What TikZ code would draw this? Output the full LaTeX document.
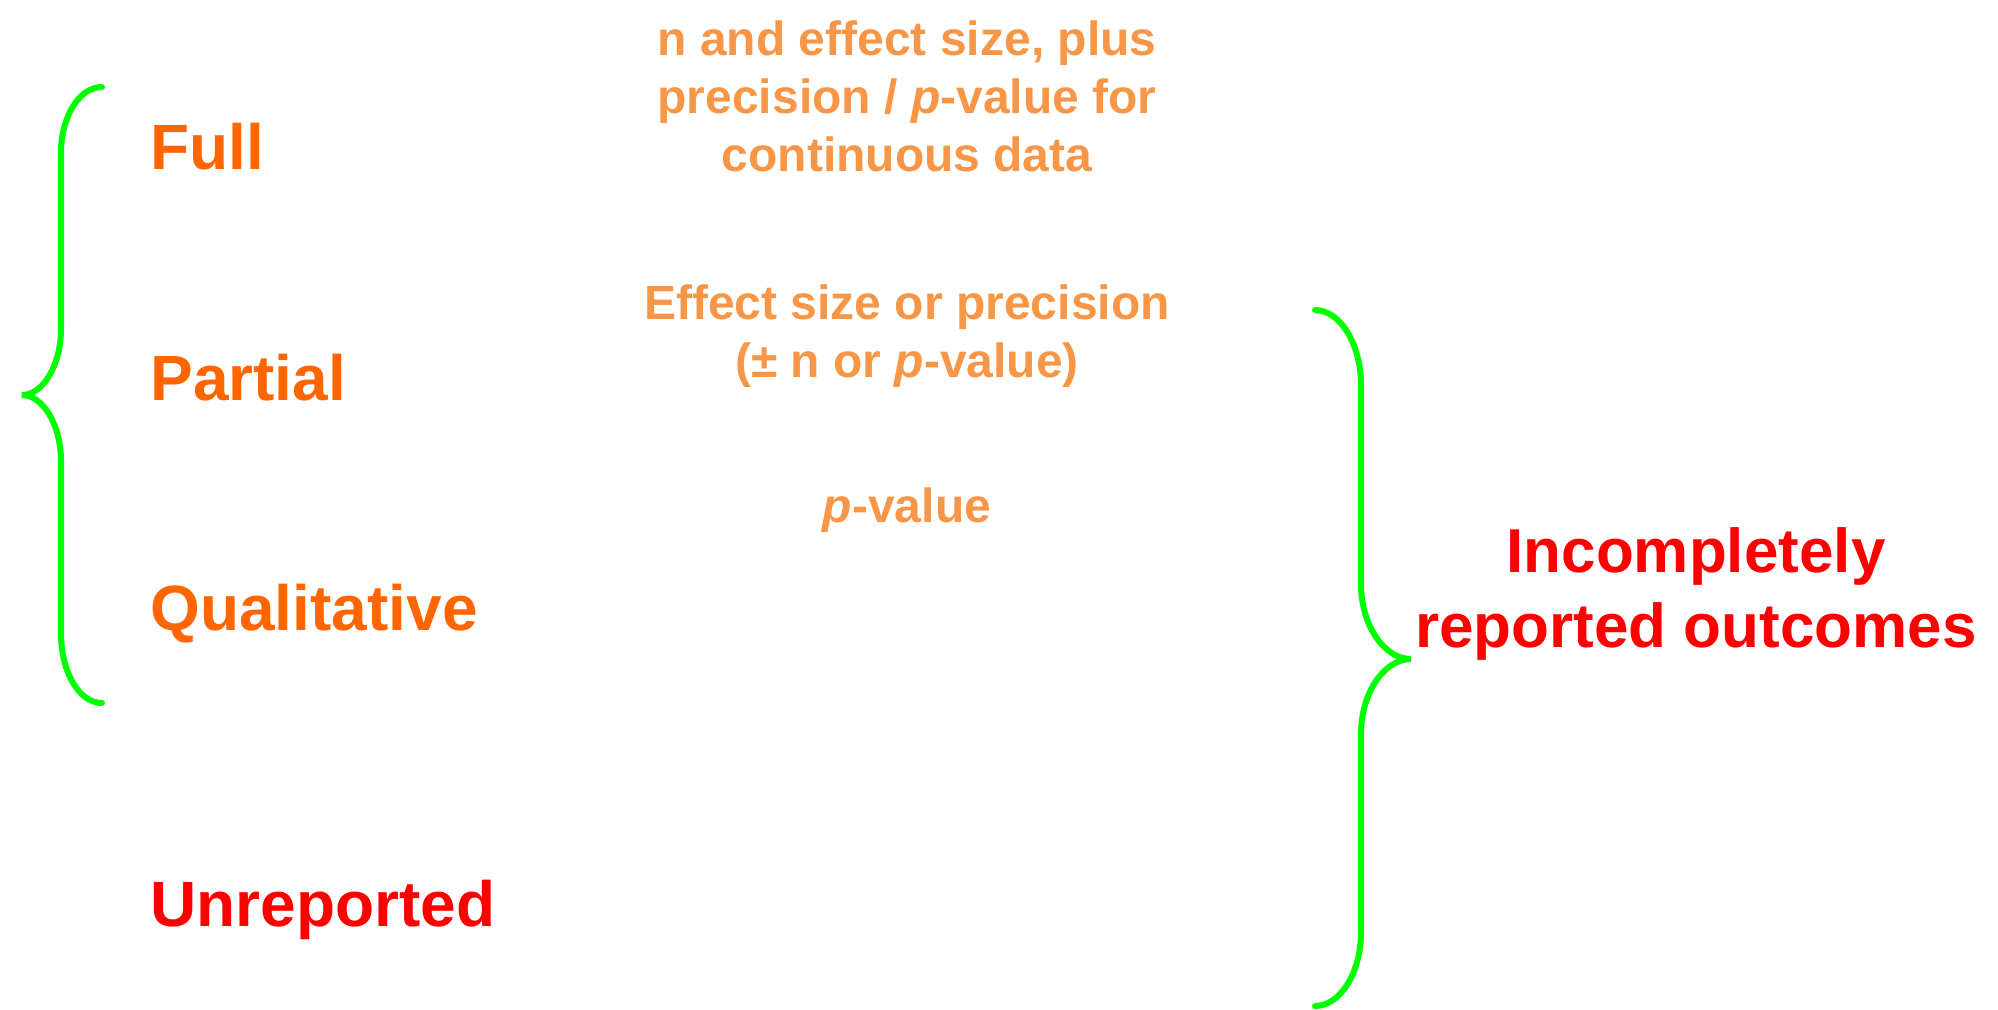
\documentclass[tikz,border=0pt]{standalone}
\usepackage{fontspec}
\setmainfont{Liberation Sans}
\definecolor{fullorange}{RGB}{255,102,0}
\definecolor{lightorange}{RGB}{247,150,70}
\definecolor{bracegreen}{RGB}{0,255,0}

\begin{document}
\begin{tikzpicture}[x=0.5pt,y=-0.5pt,
  level/.style={anchor=base west,inner sep=0pt,font=\fontsize{32}{38.4}\selectfont\bfseries},
  detail/.style={anchor=base,inner sep=0pt,align=center,text=lightorange,font=\fontsize{24}{28.8}\selectfont\bfseries},
  brace/.style={draw=bracegreen,line width=3pt,line cap=round}]
\useasboundingbox (0,0) rectangle (1998,1009);
% left brace
\draw[brace] (102,87) .. controls (79,87) and (61,117) .. (61,153) -- (61,329)
  .. controls (61,365) and (43,395) .. (22,395)
  .. controls (43,395) and (61,425) .. (61,461) -- (61,633)
  .. controls (61,672) and (79,703) .. (102,703);
% right brace
\draw[brace] (1315,310) .. controls (1340,310) and (1361,344) .. (1361,385) -- (1361,584)
  .. controls (1361,625) and (1384,659) .. (1411,659)
  .. controls (1384,659) and (1361,693) .. (1361,734) -- (1361,932)
  .. controls (1361,973) and (1340,1006) .. (1315,1006);
% levels of reporting
\node[level,text=fullorange] (full) at (150,169) {Full};
\node[level,text=fullorange] (partial) at (150,400) {Partial};
\node[level,text=fullorange] (qual) at (150,630) {Qualitative};
\node[level,text=red] (unrep) at (150,926) {Unreported};
% what each level gives (base = last line)
\node[detail] (fulltxt) at (907,171) {n and effect size, plus\\precision / \textit{p}-value for\\continuous data};
\node[detail] (parttxt) at (907,377) {Effect size or precision\\(± n or \textit{p}-value)};
\node[detail] (qualtxt) at (907,522) {\textit{p}-value};
\node[level,anchor=base,align=center,text=red,font=\fontsize{31}{37.2}\selectfont\bfseries] (incomplete) at (1696,647) {Incompletely\\reported outcomes};
\end{tikzpicture}
\end{document}
